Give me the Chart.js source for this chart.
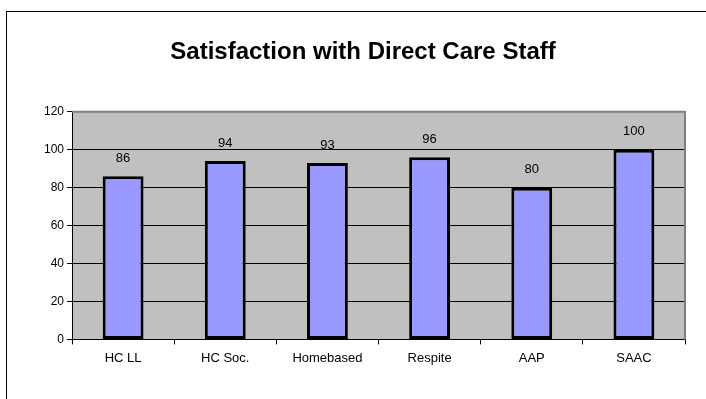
<!DOCTYPE html>
<html>
<head>
<meta charset="utf-8">
<script src="https://cdn.jsdelivr.net/npm/chart.js@4"></script>
<style>
  body { margin: 0; background: #fff; overflow: hidden; }
  #frame { position: absolute; left: 6px; top: 11px; width: 760px; height: 450px; border: 1px solid #000; }
  #wrap { position: absolute; left: 0; top: 0; width: 706px; height: 399px; }
</style>
</head>
<body>
<div id="frame"></div>
<div id="wrap"><canvas id="satChart"></canvas></div>
<script>
const categories = ['HC LL', 'HC Soc.', 'Homebased', 'Respite', 'AAP', 'SAAC'];
const satisfaction = [86, 94, 93, 96, 80, 100];
const yTicks = [0, 20, 40, 60, 80, 100, 120];

const fontFamily = 'Arial, "Liberation Sans", sans-serif';

// gray plot area + gray top/right edges like the old Excel chart
const plotBg = {
  id: 'plotBg',
  beforeDraw(chart) {
    const { ctx, chartArea: a } = chart;
    ctx.save();
    ctx.fillStyle = '#c0c0c0';
    ctx.fillRect(a.left, a.top, a.right - a.left, a.bottom - a.top);
    ctx.restore();
  },
  afterDraw(chart) {
    const { ctx, chartArea: a } = chart;
    ctx.save();
    ctx.strokeStyle = '#808080';
    ctx.lineWidth = 2;
    ctx.beginPath();
    ctx.moveTo(a.left, a.top);
    ctx.lineTo(a.right, a.top);
    ctx.lineTo(a.right, a.bottom);
    ctx.stroke();
    ctx.restore();
  }
};

// value labels above each bar
const barLabels = {
  id: 'barLabels',
  afterDatasetsDraw(chart) {
    const { ctx } = chart;
    const meta = chart.getDatasetMeta(0);
    ctx.save();
    ctx.fillStyle = '#000';
    ctx.font = '13px ' + fontFamily;
    ctx.textAlign = 'center';
    ctx.textBaseline = 'middle';
    meta.data.forEach((bar, i) => {
      ctx.fillText(satisfaction[i], bar.x, bar.y - 18);
    });
    ctx.restore();
  }
};

const ctx = document.getElementById('satChart').getContext('2d');
let satChart = new Chart(ctx, {
  type: 'bar',
  data: {
    labels: categories,
    datasets: [{
      data: satisfaction,
      backgroundColor: '#9999ff',
      borderColor: '#000',
      borderWidth: 3,
      borderSkipped: false,
      barPercentage: 0.4,
      categoryPercentage: 1
    }]
  },
  options: {
    responsive: true,
    maintainAspectRatio: false,
    animation: false,
    layout: { padding: { left: 41, right: 21, top: 0, bottom: 27 } },
    plugins: {
      legend: { display: false },
      tooltip: { enabled: false },
      title: {
        display: true,
        text: 'Satisfaction with Direct Care Staff',
        color: '#000',
        font: { family: fontFamily, size: 24, weight: 'bold' },
        padding: { top: 38, bottom: 45 }
      }
    },
    scales: {
      x: {
        offset: true,
        grid: { offset: true, drawOnChartArea: false, drawTicks: true, tickLength: 5, color: '#000' },
        border: { color: '#000', width: 1 },
        ticks: { color: '#000', padding: 6, font: { family: fontFamily, size: 13 } }
      },
      y: {
        min: 0,
        max: 120,
        afterBuildTicks(axis) { axis.ticks = yTicks.map(v => ({ value: v })); },
        grid: { color: '#000', tickLength: 5 },
        border: { color: '#000', width: 1 },
        ticks: { color: '#000', padding: 3, font: { family: fontFamily, size: 12 } }
      }
    }
  },
  plugins: [plotBg, barLabels]
});
</script>
</body>
</html>
